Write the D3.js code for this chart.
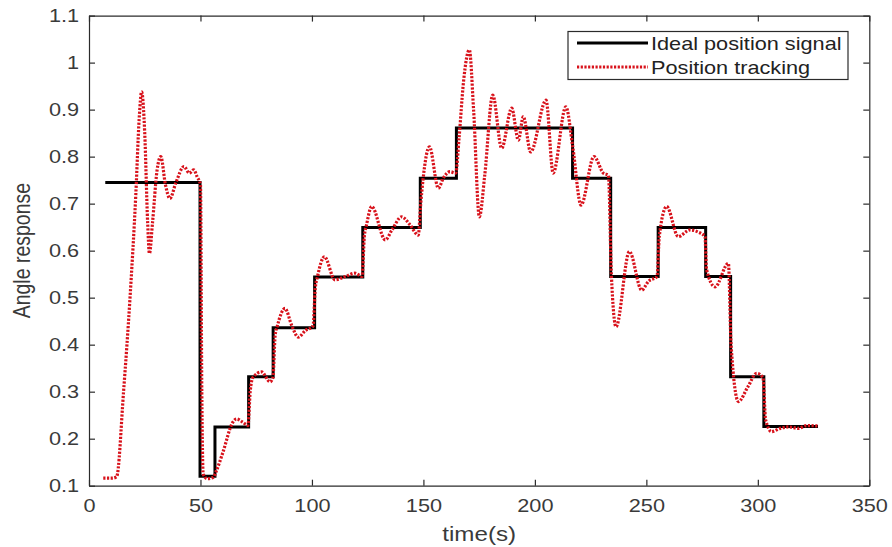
<!DOCTYPE html>
<html>
<head>
<meta charset="utf-8">
<script src="https://cdn.jsdelivr.net/npm/d3@7"></script>
<style>
body { margin: 0; background: #fff; }
text { font-family: Arial, "Liberation Sans", sans-serif; }
</style>
</head>
<body>
<div id="graphe"></div>
<script>
// signal ideal (marches)
var stepTime  = [7.3, 49.8, 56.5, 71.6, 82.6, 101.2, 122.8, 148.6, 164.8, 216.9, 234.0, 255.3, 276.6, 287.8, 302.7, 327];
var stepAngle = [0.745, 0.12, 0.225, 0.332, 0.436, 0.544, 0.649, 0.754, 0.861, 0.754, 0.545, 0.649, 0.545, 0.332, 0.226, 0.226];

// suivi de position
var trackTime = [6.4, 10.5, 12.4, 15.5, 18.4, 21, 22.5, 23.6, 25.0, 26.3, 27.1, 28.5, 30.5, 32.2, 34.3, 36.3, 39, 42.6, 45, 47, 48.5, 50,
    50.6, 51.2, 53, 55.8, 57, 60, 64.5, 66.2, 69, 71.3, 72.3, 73.5, 77.4, 81.2, 82.5, 83.5, 84.5, 87.9, 91, 93.9, 97, 100.5,
    101.5, 102.5, 105.6, 110.3, 115, 119.3, 122.5, 123.5, 124.5, 126.8, 132.9, 136, 140.2, 144, 147.7, 148.8, 149.8, 152.7,
    156.7, 159, 161.9, 164.5, 166, 168, 170.6, 172.5, 175.1, 177.5, 181.1, 185.1, 189.6, 192.6, 194.8, 198.1, 205, 208.2,
    213.9, 217, 220.7, 226.5, 230.7, 233, 234.3, 236.4, 242.4, 247.9, 251, 254.8, 255.8, 259.1, 264.3, 269.6, 273, 276.3,
    277, 280.8, 286.8, 288, 291.3, 295.5, 299.5, 302.3, 303.5, 306.2, 310, 314, 318, 322, 327];
var trackAngle = [0.116, 0.116, 0.119, 0.30, 0.50, 0.72, 0.88, 0.938, 0.85, 0.66, 0.594, 0.66, 0.77, 0.80, 0.74, 0.711, 0.745, 0.779, 0.765, 0.772, 0.757, 0.74,
    0.30, 0.125, 0.115, 0.118, 0.13, 0.17, 0.235, 0.242, 0.235, 0.228, 0.30, 0.33, 0.342, 0.321, 0.33, 0.42, 0.44, 0.477, 0.44, 0.416, 0.43, 0.44,
    0.52, 0.545, 0.587, 0.538, 0.545, 0.552, 0.545, 0.63, 0.655, 0.694, 0.623, 0.645, 0.672, 0.655, 0.633, 0.70, 0.75, 0.821,
    0.733, 0.755, 0.768, 0.765, 0.84, 0.96, 1.027, 0.90, 0.672, 0.76, 0.931, 0.818, 0.903, 0.835, 0.885, 0.81, 0.92, 0.765,
    0.906, 0.82, 0.697, 0.80, 0.765, 0.76, 0.55, 0.438, 0.598, 0.516, 0.535, 0.545, 0.63, 0.694, 0.630, 0.644, 0.64, 0.63,
    0.56, 0.523, 0.573, 0.40, 0.279, 0.31, 0.339, 0.33, 0.24, 0.215, 0.222, 0.225, 0.222, 0.228, 0.227];

var xTicks = [0, 50, 100, 150, 200, 250, 300, 350];
var yTicks = [0.1, 0.2, 0.3, 0.4, 0.5, 0.6, 0.7, 0.8, 0.9, 1.0, 1.1];
var legendLabels = ["Ideal position signal", "Position tracking"];

var largeur = 892, hauteur = 547;
var gauche = 89, droite = 869.3, haut = 15.6, bas = 485.7;
var etirement = 1.24; // le texte de la figure est étiré horizontalement
var gris = "#2b2b2b";
var rouge = "#d8121b";

var svg = d3.select("#graphe").append("svg").attr("width", largeur).attr("height", hauteur);

var x = d3.scaleLinear().domain([0, 350]).range([gauche, droite]);
var y = d3.scaleLinear().domain([0.1, 1.1]).range([bas, haut]);

// axes avec graduations vers l'intérieur
var axeBas = svg.append("g").attr("transform", "translate(0," + bas + ")")
    .call(d3.axisBottom(x).tickValues(xTicks).tickSizeInner(-6).tickSizeOuter(0).tickPadding(14));
var axeGauche = svg.append("g").attr("transform", "translate(" + gauche + ",0)")
    .call(d3.axisLeft(y).tickValues(yTicks).tickSizeInner(-6).tickSizeOuter(0).tickPadding(8)
        .tickFormat(function(d) { return String(+d.toFixed(1)); }));
var axeHaut = svg.append("g").attr("transform", "translate(0," + haut + ")")
    .call(d3.axisTop(x).tickValues(xTicks).tickSizeInner(-6).tickSizeOuter(0).tickFormat(""));
var axeDroite = svg.append("g").attr("transform", "translate(" + droite + ",0)")
    .call(d3.axisRight(y).tickValues(yTicks).tickSizeInner(-6).tickSizeOuter(0).tickFormat(""));

[axeBas, axeGauche, axeHaut, axeDroite].forEach(function(a) {
    a.selectAll("path, line").attr("stroke", gris).attr("stroke-width", 1.2);
    a.selectAll("text").attr("fill", "#3a3a3a").attr("font-size", 17.5)
        .attr("font-family", "Arial, 'Liberation Sans', sans-serif")
        .attr("transform", "scale(" + etirement + ",1)");
});

// courbes
var ligneMarche = d3.line()
    .x(function(d) { return x(d[0]); })
    .y(function(d) { return y(d[1]); })
    .curve(d3.curveStepAfter);
var ligneSuivi = d3.line()
    .x(function(d) { return x(d[0]); })
    .y(function(d) { return y(d[1]); })
    .curve(d3.curveMonotoneX);

var marche = stepTime.map(function(t, i) { return [t, stepAngle[i]]; });
var suivi = trackTime.map(function(t, i) { return [t, trackAngle[i]]; });

svg.append("path").attr("d", ligneMarche(marche))
    .attr("fill", "none").attr("stroke", "#000").attr("stroke-width", 3);
svg.append("path").attr("d", ligneSuivi(suivi))
    .attr("fill", "none").attr("stroke", rouge).attr("stroke-width", 3.2)
    .attr("stroke-dasharray", "2.2,1.5");

// légende
var legende = svg.append("g");
legende.append("rect").attr("x", 568).attr("y", 31.5).attr("width", 280).attr("height", 48)
    .attr("fill", "#fff").attr("stroke", gris).attr("stroke-width", 1.2);
var styles = [
    { stroke: "#000", width: 3, dash: null },
    { stroke: rouge, width: 3.2, dash: "2.2,1.5" }
];
legendLabels.forEach(function(lab, i) {
    var yl = 43 + i * 24;
    legende.append("line").attr("x1", 577).attr("x2", 648).attr("y1", yl).attr("y2", yl)
        .attr("stroke", styles[i].stroke).attr("stroke-width", styles[i].width)
        .attr("stroke-dasharray", styles[i].dash);
    legende.append("text").attr("transform", "translate(651," + (yl + 6.5) + ") scale(" + etirement + ",1)")
        .attr("font-size", 17.5).attr("fill", "#222").text(lab);
});

// titres des axes
svg.append("text")
    .attr("transform", "translate(" + ((gauche + droite) / 2) + ",541) scale(" + etirement + ",1)")
    .attr("text-anchor", "middle").attr("font-size", 19.5).attr("fill", "#3a3a3a").text("time(s)");
svg.append("text")
    .attr("transform", "translate(30," + ((haut + bas) / 2) + ") scale(" + etirement + ",1) rotate(-90)")
    .attr("text-anchor", "middle").attr("font-size", 19.5).attr("fill", "#3a3a3a").text("Angle response");
</script>
</body>
</html>
